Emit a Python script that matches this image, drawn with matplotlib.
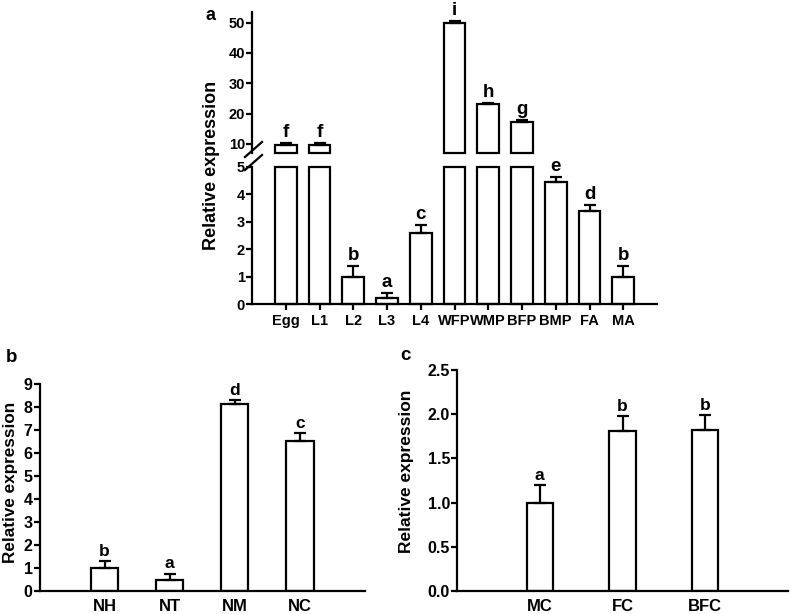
import numpy as np
import matplotlib
matplotlib.use("Agg")
import matplotlib.pyplot as plt
from matplotlib.lines import Line2D

plt.rcParams['font.family'] = ['Liberation Sans', 'DejaVu Sans']
plt.rcParams['font.weight'] = 'bold'

# Panel a data
a_cats = ["Egg", "L1", "L2", "L3", "L4", "WFP", "WMP", "BFP", "BMP", "FA", "MA"]
a_vals = [9.7, 9.7, 1.0, 0.23, 2.6, 50.0, 23.1, 17.3, 4.44, 3.4, 1.0]
a_err = [0.6, 0.6, 0.38, 0.16, 0.28, 0.5, 0.45, 0.6, 0.18, 0.2, 0.38]
a_let = ["f", "f", "b", "a", "c", "i", "h", "g", "e", "d", "b"]

# Panel b data
b_cats = ["NH", "NT", "NM", "NC"]
b_vals = [1.0, 0.49, 8.14, 6.51]
b_err = [0.31, 0.27, 0.17, 0.34]
b_let = ["b", "a", "d", "c"]

# Panel c data
c_cats = ["MC", "FC", "BFC"]
c_vals = [1.0, 1.81, 1.82]
c_err = [0.2, 0.17, 0.17]
c_let = ["a", "b", "b"]

W, H = 797, 614
fig = plt.figure(figsize=(W / 100, H / 100), dpi=100)

def ax_rect(l, t, r, b):
    return [l / W, (H - b) / H, (r - l) / W, (b - t) / H]

LW = 1.6

def style(ax, bottom=True, fs=10.5):
    for s in ["top", "right"]:
        ax.spines[s].set_visible(False)
    ax.spines["left"].set_linewidth(LW)
    ax.spines["bottom"].set_linewidth(LW)
    if not bottom:
        ax.spines["bottom"].set_visible(False)
    ax.tick_params(axis="both", direction="out", width=LW, length=4,
                   labelsize=fs, pad=1)
    for lab in ax.get_xticklabels() + ax.get_yticklabels():
        lab.set_fontweight("bold")

def bars(ax, x, vals, width, bottom=0.0, clip=True):
    ax.bar(x, np.asarray(vals) - bottom, width, bottom=bottom, color="white",
           edgecolor="black", linewidth=LW, clip_on=clip, zorder=2)

def errs(ax, x, vals, err, cap):
    ax.errorbar(x, vals, yerr=[np.zeros(len(vals)), err], fmt="none",
                ecolor="black", elinewidth=LW, capsize=cap, capthick=LW,
                zorder=3, clip_on=False)

def letters(ax, x, tops, lets, fs=11.5, off=1.5):
    for xi, t, l in zip(x, tops, lets):
        ax.annotate(l, (xi, t), xytext=(0, off), textcoords="offset points",
                    ha="center", va="bottom", fontsize=fs, fontweight="bold",
                    annotation_clip=False)

# ---------- Panel a ----------
xa = np.arange(len(a_cats))
av = np.array(a_vals)
ae = np.array(a_err)
lo_top = 5.0
up_lo, up_hi = 7.0, 53.5
wa = 0.65

axl = fig.add_axes(ax_rect(252, 167, 657, 304))
axu = fig.add_axes(ax_rect(252, 12, 657, 153))

# lower part
bars(axl, xa, np.minimum(av, lo_top), wa, clip=False)
low = av <= lo_top
errs(axl, xa[low], av[low], ae[low], 4)
letters(axl, xa[low], av[low] + ae[low], np.array(a_let)[low], fs=13.5)
axl.set_ylim(0, lo_top)
axl.set_xlim(-1, len(a_cats))
axl.set_yticks([0, 1, 2, 3, 4, 5])
axl.set_xticks(xa)
axl.set_xticklabels(a_cats)
style(axl, fs=10.5)
axl.tick_params(axis="x", pad=3)

# upper part
hi = av > lo_top
ax_hi = xa[hi]
bars(axu, ax_hi, av[hi], wa, bottom=up_lo, clip=False)
errs(axu, ax_hi, av[hi], ae[hi], 4)
letters(axu, ax_hi, av[hi] + ae[hi], np.array(a_let)[hi], fs=13.5)
axu.set_ylim(up_lo, up_hi)
axu.set_xlim(-1, len(a_cats))
axu.set_yticks([10, 20, 30, 40, 50])
axu.set_xticks([])
style(axu, bottom=False, fs=10.5)
axu.tick_params(axis="x", length=0)

# break marks
for (x0, y0, x1, y1) in [(245, 157, 262, 142), (245, 170, 262, 155)]:
    fig.add_artist(Line2D([x0 / W, x1 / W], [(H - y0) / H, (H - y1) / H],
                          color="black", lw=LW))

fig.text(212 / W, (H - 165) / H, "Relative expression", rotation=90,
         ha="center", va="center", fontsize=13, fontweight="bold")
fig.text(210 / W, (H - 15) / H, "a", ha="center", va="center",
         fontsize=13, fontweight="bold")

# ---------- Panel b ----------
axb = fig.add_axes(ax_rect(39.5, 384, 365, 591))
xb = np.arange(len(b_cats))
bars(axb, xb, b_vals, 0.42)
errs(axb, xb, b_vals, b_err, 4)
letters(axb, xb, np.array(b_vals) + np.array(b_err), b_let, fs=12.5)
axb.set_ylim(0, 9)
axb.set_xlim(-1, len(b_cats))
axb.set_yticks(range(0, 10))
axb.set_xticks(xb)
axb.set_xticklabels(b_cats)
style(axb, fs=11.5)
axb.tick_params(axis="x", length=0, pad=6, labelsize=12)
fig.text(11 / W, (H - 482) / H, "Relative expression", rotation=90,
         ha="center", va="center", fontsize=12.3, fontweight="bold")
fig.text(12 / W, (H - 357) / H, "b", ha="center", va="center",
         fontsize=13.5, fontweight="bold")

# ---------- Panel c ----------
axc = fig.add_axes(ax_rect(457, 370, 788, 591))
xc = np.arange(len(c_cats))
bars(axc, xc, c_vals, 0.32)
errs(axc, xc, c_vals, c_err, 4)
letters(axc, xc, np.array(c_vals) + np.array(c_err), c_let, fs=12.5)
axc.set_ylim(0, 2.5)
axc.set_xlim(-1, len(c_cats))
axc.set_yticks([0, 0.5, 1.0, 1.5, 2.0, 2.5])
axc.set_yticklabels(["0.0", "0.5", "1.0", "1.5", "2.0", "2.5"])
axc.set_xticks(xc)
axc.set_xticklabels(c_cats)
style(axc, fs=11.5)
axc.tick_params(axis="x", length=0, pad=6, labelsize=12)
fig.text(406 / W, (H - 471) / H, "Relative expression", rotation=90,
         ha="center", va="center", fontsize=12.5, fontweight="bold")
fig.text(405 / W, (H - 355) / H, "c", ha="center", va="center",
         fontsize=13.5, fontweight="bold")

fig.savefig("out.png", dpi=100)
